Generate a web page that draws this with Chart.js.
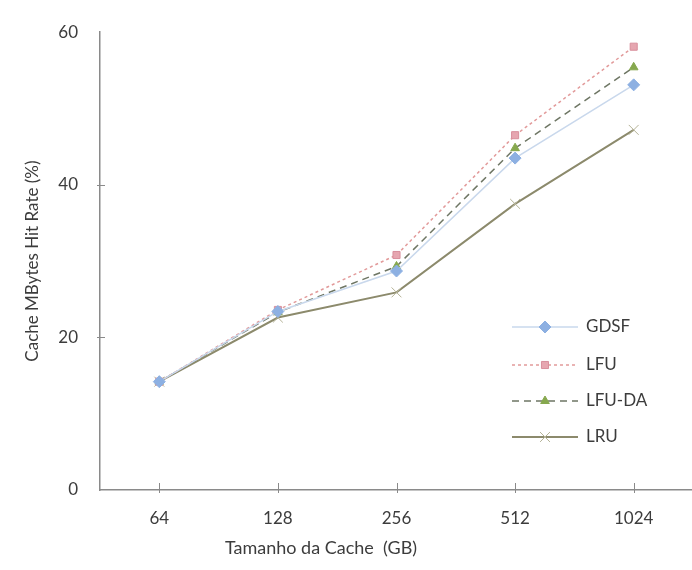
<!DOCTYPE html>
<html>
<head>
<meta charset="utf-8">
<script src="https://cdn.jsdelivr.net/npm/chart.js@4.4.1/dist/chart.umd.min.js"></script>
<style>
  html, body { margin: 0; padding: 0; background: #fff; overflow: hidden; }
  #wrap { width: 701px; height: 570px; position: relative; }
</style>
</head>
<body>
<div id="wrap"><canvas id="chart_cache_hit"></canvas></div>
<script>
// tamanho da cache (GB)
var cacheSizes = ['64', '128', '256', '512', '1024'];
var gdsfValues = [14.2, 23.4, 28.7, 43.5, 53.1];
var lfuValues = [14.2, 23.6, 30.8, 46.5, 58.1];
var lfuDaValues = [14.2, 23.3, 29.3, 44.8, 55.4];
var lruValues = [14.2, 22.6, 25.9, 37.5, 47.2];
var yTicks = [0, 20, 40, 60];

var fontName = 'Lato, "Open Sans", sans-serif';
var textColor = '#3c3c3c';
var axisColor = '#8a8a8a';

// ticks crossing the axes, legend and x title drawn on the canvas
var excelBits = {
    id: 'excelBits',
    afterDraw: function (chart) {
        var ctx = chart.ctx;
        var xs = chart.scales.x, ys = chart.scales.y;
        var area = chart.chartArea;
        ctx.save();
        ctx.strokeStyle = axisColor;
        ctx.lineWidth = 1;
        for (var i = 0; i < cacheSizes.length; i++) {
            var px = Math.round(xs.getPixelForTick(i)) + 0.5;
            ctx.beginPath();
            ctx.moveTo(px, area.bottom - 7);
            ctx.lineTo(px, area.bottom + 3);
            ctx.stroke();
        }
        for (var j = 1; j < yTicks.length - 1; j++) {
            var py = Math.round(ys.getPixelForValue(yTicks[j])) + 0.5;
            ctx.beginPath();
            ctx.moveTo(area.left - 3, py);
            ctx.lineTo(area.left + 5, py);
            ctx.stroke();
        }

        // legend
        var rowsY = [327, 365, 401, 437];
        var x0 = 512, x1 = 578;
        ctx.font = '17px ' + fontName;
        ctx.textBaseline = 'middle';
        ctx.textAlign = 'left';
        chart.data.datasets.forEach(function (ds, k) {
            var y = rowsY[k];
            ctx.save();
            ctx.strokeStyle = ds.borderColor;
            ctx.lineWidth = ds.borderWidth;
            ctx.setLineDash(ds.borderDash || []);
            ctx.beginPath();
            ctx.moveTo(x0, y);
            ctx.lineTo(x1, y);
            ctx.stroke();
            ctx.restore();
            ctx.save();
            ctx.fillStyle = ds.pointBackgroundColor;
            ctx.strokeStyle = ds.pointBorderColor;
            ctx.lineWidth = ds.pointBorderWidth;
            Chart.helpers.drawPoint(ctx, {
                pointStyle: ds.pointStyle,
                radius: ds.pointRadius,
                borderWidth: ds.pointBorderWidth,
                rotation: 0
            }, (x0 + x1) / 2, y);
            ctx.restore();
            ctx.fillStyle = textColor;
            ctx.fillText(ds.label, x1 + 8, y);
        });

        // x axis title, sits left of centre like the original
        ctx.font = '18px ' + fontName;
        ctx.textAlign = 'center';
        ctx.fillStyle = textColor;
        ctx.fillText('Tamanho da Cache  (GB)', 321, 548);
        ctx.restore();
    }
};

var ctxLine = document.getElementById('chart_cache_hit').getContext('2d');
var cacheChart = new Chart(ctxLine, {
    type: 'line',
    data: {
        labels: cacheSizes,
        datasets: [{
            label: 'GDSF',
            data: gdsfValues,
            borderColor: '#c9d8ec',
            borderWidth: 1.5,
            pointStyle: 'rectRot',
            pointRadius: 6,
            pointBackgroundColor: '#8db0e2',
            pointBorderColor: '#8db0e2',
            pointBorderWidth: 1
        }, {
            label: 'LFU',
            data: lfuValues,
            borderColor: '#e29a9a',
            borderWidth: 1.5,
            borderDash: [3, 3],
            pointStyle: 'rect',
            pointRadius: 5,
            pointBackgroundColor: '#e6a6b0',
            pointBorderColor: '#d88f9c',
            pointBorderWidth: 1
        }, {
            label: 'LFU-DA',
            data: lfuDaValues,
            borderColor: '#6e7664',
            borderWidth: 1.5,
            borderDash: [7, 5],
            pointStyle: 'triangle',
            pointRadius: 5,
            pointBackgroundColor: '#86a84e',
            pointBorderColor: '#86a84e',
            pointBorderWidth: 1
        }, {
            label: 'LRU',
            data: lruValues,
            borderColor: '#8c8a6c',
            borderWidth: 2,
            pointStyle: 'crossRot',
            pointRadius: 7,
            pointBackgroundColor: '#b4b296',
            pointBorderColor: '#b4b296',
            pointBorderWidth: 1
        }]
    },
    options: {
        responsive: true,
        maintainAspectRatio: false,
        animation: false,
        layout: { padding: { top: 16, right: 0, left: 0, bottom: 0 } },
        plugins: {
            legend: { display: false },
            tooltip: { enabled: false }
        },
        scales: {
            x: {
                offset: true,
                grid: { display: false, drawTicks: false },
                border: { display: true, color: axisColor, width: 1.5 },
                ticks: {
                    padding: 18,
                    color: textColor,
                    font: { family: fontName, size: 17 }
                },
                afterFit: function (scale) { scale.height = 80; }
            },
            y: {
                min: 0,
                max: 60,
                afterBuildTicks: function (scale) {
                    scale.ticks = yTicks.map(function (v) { return { value: v }; });
                },
                grid: { display: false, drawTicks: false },
                border: { display: true, color: axisColor, width: 1.5 },
                ticks: {
                    padding: 22,
                    color: textColor,
                    font: { family: fontName, size: 17 }
                },
                title: {
                    display: true,
                    text: 'Cache MBytes Hit Rate (%)',
                    color: textColor,
                    font: { family: fontName, size: 17 },
                    padding: { top: 22, bottom: 0 }
                },
                afterFit: function (scale) { scale.width = 100; }
            }
        }
    },
    plugins: [excelBits]
});
</script>
</body>
</html>
